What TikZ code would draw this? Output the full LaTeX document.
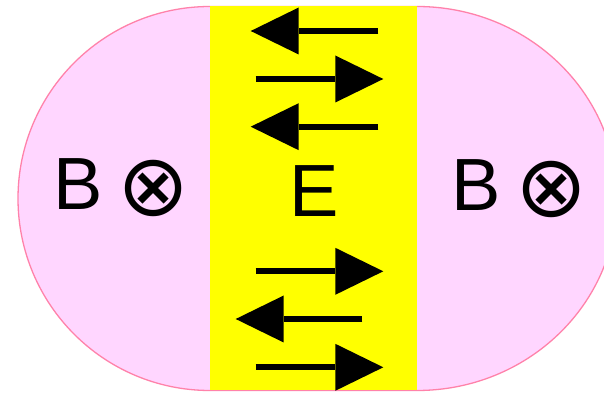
\documentclass[tikz,border=0pt]{standalone}
\usepackage{fontspec}
\setmainfont{Liberation Sans}
\newfontfamily\symfont{DejaVu Sans}
\usetikzlibrary{arrows.meta}
\definecolor{pinkfill}{HTML}{FFD6FF}
\definecolor{pinkline}{HTML}{FF82AA}
\definecolor{fieldyellow}{HTML}{FFFF00}
\newcommand{\otimessym}{\hspace{-6pt}\raisebox{-6pt}{\symfont\fontsize{86}{90}\selectfont ⊗}}
\tikzset{
  lbl/.style={inner sep=0pt, outer sep=0pt, font=\fontsize{74}{80}\selectfont},
  efield/.style={line width=6.3pt, -{Triangle[length=48pt,width=47pt,line width=0pt]}},
}
\begin{document}
\begin{tikzpicture}[x=1pt,y=1pt]
\useasboundingbox (0,0) rectangle (604,393);
\clip (0,0) rectangle (604,393);
% magnetic region (pink)
\filldraw[fill=pinkfill, draw=pinkline, line width=1.3pt]
  (210,386.5) arc[start angle=90, end angle=270, radius=192]
  -- (417,2.5) arc[start angle=-90, end angle=90, x radius=200, y radius=192]
  -- cycle;
% electric region (yellow)
\fill[fieldyellow] (209.5,3.3) rectangle (417,387);
% labels
\node[lbl, anchor=base west] (bl) at (53.4,183) {B \otimessym};
\node[lbl, anchor=base west] (br) at (451.4,182.3) {B \otimessym};
\node[lbl, anchor=base] (e) at (314.5,176.3) {E};
% field arrows
\coordinate (a1s) at (378.3,362);   \coordinate (a1e) at (250.7,362);
\coordinate (a2s) at (255.7,314);   \coordinate (a2e) at (383.3,314);
\coordinate (a3s) at (378.3,266.3); \coordinate (a3e) at (250.7,266.3);
\coordinate (a4s) at (255.7,121.7); \coordinate (a4e) at (383.3,121.7);
\coordinate (a5s) at (362.3,74);    \coordinate (a5e) at (235.7,74);
\coordinate (a6s) at (255.7,25.7);  \coordinate (a6e) at (383.3,25.7);
\foreach \i in {1,...,6}{\draw[efield] (a\i s) -- (a\i e);}
\end{tikzpicture}
\end{document}
